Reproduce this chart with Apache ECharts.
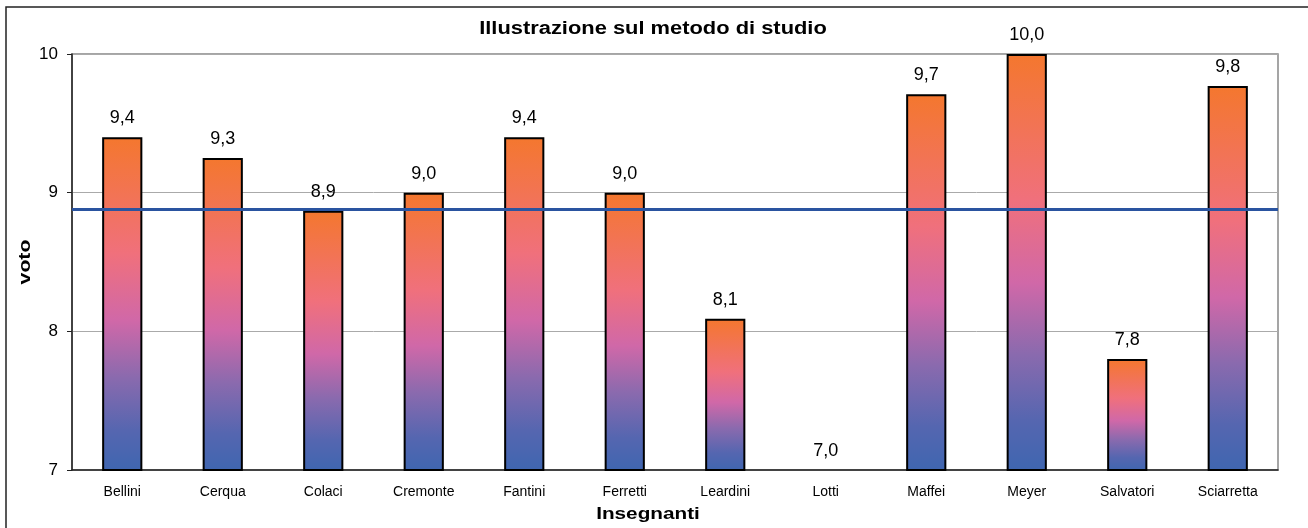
<!DOCTYPE html>
<html>
<head>
<meta charset="utf-8">
<title>Illustrazione sul metodo di studio</title>
<script src="https://cdn.jsdelivr.net/npm/echarts@6/dist/echarts.min.js"></script>
<style>
  html, body { margin: 0; padding: 0; background: #fff; }
  #chart { width: 1308px; height: 528px; }
</style>
</head>
<body>
<div id="chart"></div>
<script>
// dati
var insegnanti = ['Bellini', 'Cerqua', 'Colaci', 'Cremonte', 'Fantini', 'Ferretti',
                  'Leardini', 'Lotti', 'Maffei', 'Meyer', 'Salvatori', 'Sciarretta'];
var voti = [9.40, 9.25, 8.87, 9.00, 9.40, 9.00, 8.09, 7.00, 9.71, 10.00, 7.80, 9.77];
var media = 8.88;
var yTicks = [7, 8, 9, 10];

var FONT = 'Liberation Sans, Arial, sans-serif';
var chart = echarts.init(document.getElementById('chart'));

// gradiente delle barre: arancio in alto, blu in basso
var barGradient = new echarts.graphic.LinearGradient(0, 0, 0, 1, [
    { offset: 0, color: '#f4772e' },
    { offset: 0.35, color: '#f0707c' },
    { offset: 0.55, color: '#d068a8' },
    { offset: 0.72, color: '#8a6aae' },
    { offset: 0.88, color: '#5566b0' },
    { offset: 1, color: '#3f66b0' }
]);

var option = {
    backgroundColor: '#fff',
    animation: false,
    textStyle: { fontFamily: FONT },
    // titolo e nomi degli assi come testo grafico (un po' allargati come nell'originale)
    graphic: [{
        type: 'rect',
        shape: { x: 6, y: 7, width: 1330, height: 550 },
        style: { fill: 'none', stroke: '#222', lineWidth: 1.5 },
        silent: true
    }, {
        type: 'text',
        x: 653, y: 29,
        scaleX: 1.25,
        style: { text: 'Illustrazione sul metodo di studio', align: 'center', verticalAlign: 'middle',
                 font: 'bold 17.5px ' + FONT, fill: '#000' }
    }, {
        type: 'text',
        x: 648, y: 514,
        scaleX: 1.22,
        style: { text: 'Insegnanti', align: 'center', verticalAlign: 'middle',
                 font: 'bold 17px ' + FONT, fill: '#000' }
    }, {
        type: 'text',
        x: 25, y: 262,
        rotation: Math.PI / 2,
        scaleX: 1.25,
        style: { text: 'voto', align: 'center', verticalAlign: 'middle',
                 font: 'bold 17px ' + FONT, fill: '#000' }
    }],
    grid: { left: 72, right: 30, top: 54, bottom: 58, show: true,
            borderColor: '#888', borderWidth: 1.5 },
    xAxis: {
        type: 'category',
        data: insegnanti,
        axisLine: { lineStyle: { color: '#222', width: 1.5 } },
        axisTick: { length: 5, lineStyle: { color: '#222' } },
        axisLabel: { fontSize: 14, color: '#000', margin: 15 }
    },
    yAxis: {
        type: 'value',
        min: yTicks[0],
        max: yTicks[yTicks.length - 1],
        interval: 1,
        axisLine: { show: true, lineStyle: { color: '#222', width: 1.5 } },
        axisTick: { show: true, length: 5, lineStyle: { color: '#222' } },
        axisLabel: { fontSize: 17, color: '#000', margin: 14 },
        splitLine: { lineStyle: { color: '#aaa', width: 1 } }
    },
    series: [{
        type: 'bar',
        data: voti,
        barWidth: '40%',
        itemStyle: { color: barGradient, borderColor: '#000', borderWidth: 2 },
        markLine: {
            silent: true,
            symbol: ['none', 'none'],
            label: { show: false },
            lineStyle: { color: '#2a54a0', width: 3, type: 'solid' },
            data: [{ yAxis: media }]
        }
    }, {
        // etichette dei valori (anche per la barra a 7,0 che ha altezza nulla)
        type: 'scatter',
        data: voti,
        symbolSize: 0,
        silent: true,
        itemStyle: { opacity: 1 },
        label: {
            show: true,
            position: 'top',
            distance: 10,
            fontSize: 18,
            color: '#000',
            formatter: function (p) { return p.value.toFixed(1).replace('.', ','); }
        }
    }]
};

chart.setOption(option);
</script>
</body>
</html>
